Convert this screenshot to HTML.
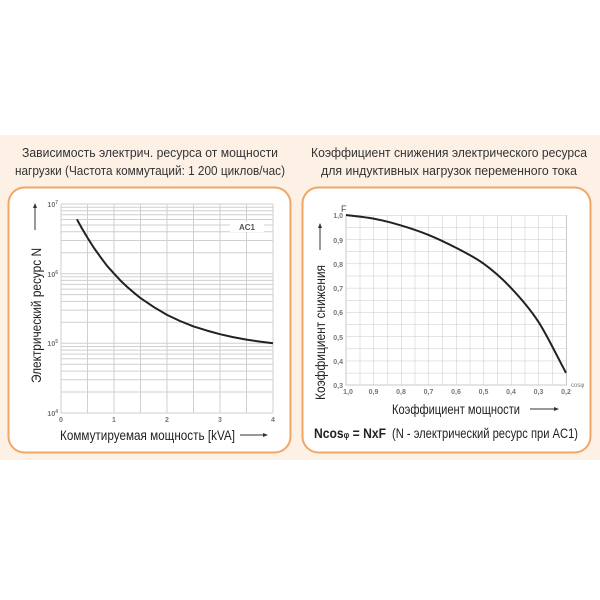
<!DOCTYPE html>
<html><head><meta charset="utf-8"><style>
html,body{margin:0;padding:0;background:#fff;}
svg{display:block;font-family:"Liberation Sans","DejaVu Sans",sans-serif;}
.t{font-family:"Liberation Sans",sans-serif;font-size:12.5px;fill:#333;}
.tk{font-size:7px;fill:#777;font-weight:bold;}
.lb{font-family:"Liberation Sans",sans-serif;font-size:14px;fill:#222;}
</style></head><body>
<svg width="600" height="600" viewBox="0 0 600 600">
<defs>
<pattern id="gr" x="346" y="215" width="13.75" height="12.142857" patternUnits="userSpaceOnUse">
<path d="M0 0H13.75M0 0V12.142857" stroke="#c8c8c8" stroke-width="1" fill="none"/>
</pattern>
</defs>
<rect x="0" y="135" width="600" height="325" fill="#fdf1e6"/>
<text class="t" x="150" y="157" text-anchor="middle" textLength="256" lengthAdjust="spacingAndGlyphs">Зависимость электрич. ресурса от мощности</text>
<text class="t" x="150" y="175" text-anchor="middle" textLength="270" lengthAdjust="spacingAndGlyphs">нагрузки (Частота коммутаций: 1 200 циклов/час)</text>
<text class="t" x="449" y="157" text-anchor="middle" textLength="276" lengthAdjust="spacingAndGlyphs">Коэффициент снижения электрического ресурса</text>
<text class="t" x="449" y="175" text-anchor="middle" textLength="256" lengthAdjust="spacingAndGlyphs">для индуктивных нагрузок переменного тока</text>
<rect x="8.5" y="187.5" width="282" height="265" rx="16" fill="#fff" stroke="#f0a766" stroke-width="2"/>
<rect x="302.5" y="187.5" width="288" height="265" rx="16" fill="#fff" stroke="#f0a766" stroke-width="2"/>

<!-- left grid -->
<g stroke="#cfcfcf" stroke-width="1">
<path d="M61 204V413M87.5 204V413M114 204V413M140.5 204V413M167 204V413M193.5 204V413M220 204V413M246.5 204V413M273 204V413"/>
<path d="M61 413H273M61 392H273M61 379.8H273M61 371.1H273M61 364.3H273M61 358.8H273M61 354.1H273M61 350.1H273M61 346.5H273
M61 343.3H273M61 322.3H273M61 310.1H273M61 301.4H273M61 294.6H273M61 289.1H273M61 284.4H273M61 280.4H273M61 276.8H273
M61 273.7H273M61 252.7H273M61 240.5H273M61 231.8H273M61 225H273M61 219.5H273M61 214.8H273M61 210.8H273M61 207.2H273M61 204H273"/>
</g>
<rect x="230" y="222" width="34" height="10" fill="#fff"/>
<text x="247" y="230" text-anchor="middle" style="font-size:8px;font-weight:bold;fill:#555">AC1</text>
<polyline points="76.9,219.3 82,228.5 87.5,237.8 94,248 100.75,257.4 107,265.8 114,273.6 120.5,280.6 127.25,287 134,292.8 140.5,298.1 154,307.2 167,314.9 180,321 193.5,326.4 207,330.6 220,334.2 233,337.1 246.5,339.6 260,341.6 273,343.3" fill="none" stroke="#222" stroke-width="2" stroke-linejoin="round"/>
<g class="tk" text-anchor="end">
<text x="58" y="207">10<tspan dy="-3" font-size="5">7</tspan></text>
<text x="58" y="277">10<tspan dy="-3" font-size="5">6</tspan></text>
<text x="58" y="346">10<tspan dy="-3" font-size="5">5</tspan></text>
<text x="58" y="416">10<tspan dy="-3" font-size="5">4</tspan></text>
</g>
<g class="tk" text-anchor="middle">
<text x="61" y="422">0</text><text x="114" y="422">1</text><text x="167" y="422">2</text><text x="220" y="422">3</text><text x="273" y="422">4</text>
</g>
<text class="lb" x="60" y="440" textLength="175" lengthAdjust="spacingAndGlyphs">Коммутируемая мощность [kVA]</text>
<path d="M240 435H264" stroke="#333" stroke-width="1"/><path d="M268 435l-5 -2v4z" fill="#333"/>
<text class="lb" transform="translate(41,383) rotate(-90)" textLength="135" lengthAdjust="spacingAndGlyphs">Электрический ресурс N</text>
<path d="M35 230V207" stroke="#333" stroke-width="1"/><path d="M35 203l-2 5h4z" fill="#333"/>

<!-- right grid -->
<rect x="346" y="215" width="220.5" height="170.5" fill="url(#gr)"/>
<path d="M346 215V385H566.5V215" fill="none" stroke="#c8c8c8"/>
<path d="M346 215 C355.17 216.2 364.33 216.87 373.5 218.6 C382.67 220.33 391.83 222.68 401 225.4 C410.17 228.12 419.33 231.17 428.5 234.9 C437.67 238.63 446.83 243.02 456 247.8 C465.17 252.58 474.33 256.92 483.5 263.6 C492.67 270.28 501.83 278.18 511 287.9 C520.17 297.62 529.33 307.73 538.5 321.9 C547.67 336.07 556.83 355.9 566 372.9" fill="none" stroke="#222" stroke-width="2"/>
<text x="341" y="212" style="font-size:9px;fill:#444">F</text>
<g class="tk" text-anchor="end">
<text x="343" y="218">1,0</text><text x="343" y="243">0,9</text><text x="343" y="267">0,8</text><text x="343" y="291">0,7</text><text x="343" y="315">0,6</text><text x="343" y="340">0,5</text><text x="343" y="364">0,4</text><text x="343" y="388">0,3</text>
</g>
<g class="tk" text-anchor="middle">
<text x="348" y="394">1,0</text><text x="373.5" y="394">0,9</text><text x="401" y="394">0,8</text><text x="428.5" y="394">0,7</text><text x="456" y="394">0,6</text><text x="483.5" y="394">0,5</text><text x="511" y="394">0,4</text><text x="538.5" y="394">0,3</text><text x="566" y="394">0,2</text>
</g>
<text x="571" y="387" style="font-size:6px;fill:#777">cosφ</text>
<text class="lb" x="392" y="414" textLength="128" lengthAdjust="spacingAndGlyphs">Коэффициент мощности</text>
<path d="M530 409H555" stroke="#333"/><path d="M559 409l-5 -2v4z" fill="#333"/>
<text class="lb" transform="translate(325,400) rotate(-90)" textLength="135" lengthAdjust="spacingAndGlyphs">Коэффициент снижения</text>
<path d="M320 250V227" stroke="#333"/><path d="M320 223l-2 5h4z" fill="#333"/>
<text x="314" y="438" style="font-size:14px;font-weight:bold;fill:#222" textLength="72" lengthAdjust="spacingAndGlyphs">Ncos<tspan font-size="9">φ</tspan> = NxF</text>
<text class="lb" x="392" y="438" textLength="186" lengthAdjust="spacingAndGlyphs">(N - электрический ресурс при AC1)</text>
</svg>
</body></html>
